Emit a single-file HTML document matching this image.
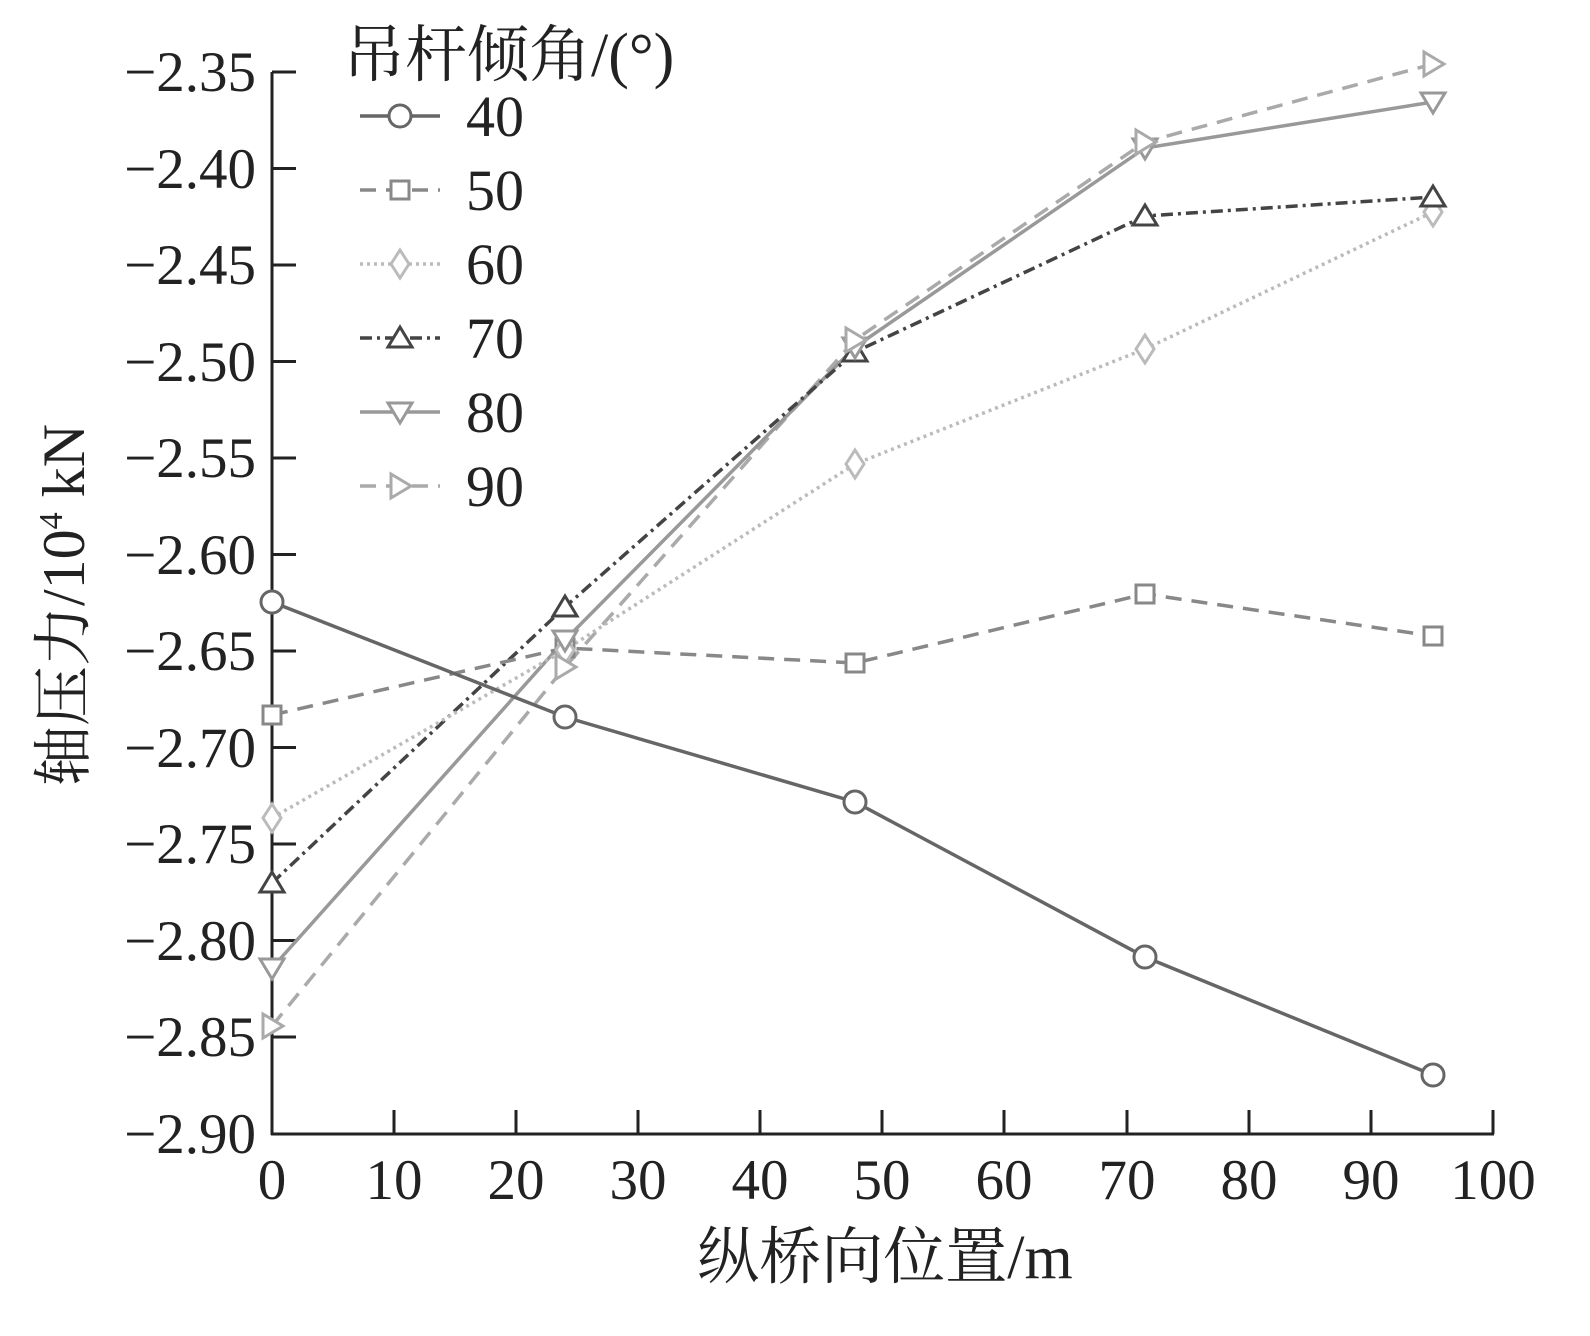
<!DOCTYPE html>
<html><head><meta charset="utf-8"><style>body{margin:0;background:#fff}svg{display:block}</style></head><body>
<svg width="1590" height="1336" xmlns="http://www.w3.org/2000/svg" font-family="Liberation Serif, Noto Serif CJK SC, serif">
<rect width="1590" height="1336" fill="#fff"/>
<g stroke="#222" stroke-width="3" fill="none">
<line x1="272" y1="72" x2="272" y2="1135"/>
<line x1="271" y1="1134" x2="1494" y2="1134"/>
</g>
<g stroke="#222" stroke-width="3">
<line x1="272" y1="72" x2="296" y2="72"/><line x1="272" y1="168.5" x2="296" y2="168.5"/><line x1="272" y1="265" x2="296" y2="265"/><line x1="272" y1="361.5" x2="296" y2="361.5"/><line x1="272" y1="458" x2="296" y2="458"/><line x1="272" y1="554.5" x2="296" y2="554.5"/><line x1="272" y1="651" x2="296" y2="651"/><line x1="272" y1="747.5" x2="296" y2="747.5"/><line x1="272" y1="844" x2="296" y2="844"/><line x1="272" y1="940.5" x2="296" y2="940.5"/><line x1="272" y1="1037" x2="296" y2="1037"/>
<line x1="394" y1="1110" x2="394" y2="1134"/><line x1="516" y1="1110" x2="516" y2="1134"/><line x1="638" y1="1110" x2="638" y2="1134"/><line x1="760" y1="1110" x2="760" y2="1134"/><line x1="882" y1="1110" x2="882" y2="1134"/><line x1="1004" y1="1110" x2="1004" y2="1134"/><line x1="1127" y1="1110" x2="1127" y2="1134"/><line x1="1249" y1="1110" x2="1249" y2="1134"/><line x1="1371" y1="1110" x2="1371" y2="1134"/><line x1="1493" y1="1110" x2="1493" y2="1134"/>
</g>
<g font-size="57" fill="#222" text-anchor="end">
<text x="256" y="91">−2.35</text><text x="256" y="188">−2.40</text><text x="256" y="284">−2.45</text><text x="256" y="381">−2.50</text><text x="256" y="477">−2.55</text><text x="256" y="574">−2.60</text><text x="256" y="670">−2.65</text><text x="256" y="767">−2.70</text><text x="256" y="863">−2.75</text><text x="256" y="960">−2.80</text><text x="256" y="1056">−2.85</text><text x="256" y="1153">−2.90</text>
</g>
<g font-size="57" fill="#222" text-anchor="middle">
<text x="272" y="1199">0</text><text x="394" y="1199">10</text><text x="516" y="1199">20</text><text x="638" y="1199">30</text><text x="760" y="1199">40</text><text x="882" y="1199">50</text><text x="1004" y="1199">60</text><text x="1127" y="1199">70</text><text x="1249" y="1199">80</text><text x="1371" y="1199">90</text><text x="1493" y="1199">100</text>
<text x="885" y="1278" font-size="62">纵桥向位置/m</text>
<text transform="translate(84,605) rotate(-90)" font-size="60">轴压力/10<tspan font-size="34" dy="-22">4</tspan><tspan dy="22"> kN</tspan></text>
</g>
<g fill="none" stroke-width="3.5">
<polyline stroke="#aaa" stroke-dasharray="16,10" points="272,1026 565,667 855,340 1145,142 1433,64"/>
<polyline stroke="#999" points="272,968 565,640 855,347 1145,148 1433,102"/>
<polyline stroke="#444" stroke-dasharray="12,5,3,5" points="272,883 565,607 855,352 1145,216 1433,197"/>
<polyline stroke="#bbb" stroke-dasharray="3,4" points="272,818 565,650 855,464 1145,349 1433,212"/>
<polyline stroke="#888" stroke-dasharray="16,10" points="272,715 565,648 855,663 1145,594 1433,636"/>
<polyline stroke="#666" points="272,602 565,717 855,802 1145,957 1433,1075"/>
</g>
<g fill="#fff" stroke-width="3">
<g stroke="#666"><circle cx="272" cy="602" r="11"/><circle cx="565" cy="717" r="11"/><circle cx="855" cy="802" r="11"/><circle cx="1145" cy="957" r="11"/><circle cx="1433" cy="1075" r="11"/></g>
<g stroke="#888"><rect x="263" y="706" width="18" height="18"/><rect x="556" y="639" width="18" height="18"/><rect x="846" y="654" width="18" height="18"/><rect x="1136" y="585" width="18" height="18"/><rect x="1424" y="627" width="18" height="18"/></g>
<g stroke="#bbb"><path d="M272 804l9 14-9 14-9-14z"/><path d="M565 636l9 14-9 14-9-14z"/><path d="M855 450l9 14-9 14-9-14z"/><path d="M1145 335l9 14-9 14-9-14z"/><path d="M1433 198l9 14-9 14-9-14z"/></g>
<g stroke="#444"><path d="M272 872l12 20h-24z"/><path d="M565 596l12 20h-24z"/><path d="M855 341l12 20h-24z"/><path d="M1145 205l12 20h-24z"/><path d="M1433 186l12 20h-24z"/></g>
<g stroke="#999"><path d="M272 979l12-20h-24z"/><path d="M565 651l12-20h-24z"/><path d="M855 358l12-20h-24z"/><path d="M1145 159l12-20h-24z"/><path d="M1433 113l12-20h-24z"/></g>
<g stroke="#aaa"><path d="M283 1026l-20-12v24z"/><path d="M576 667l-20-12v24z"/><path d="M866 340l-20-12v24z"/><path d="M1156 142l-20-12v24z"/><path d="M1444 64l-20-12v24z"/></g>
</g>
<text x="343" y="76" font-size="62" fill="#222">吊杆倾角/(°)</text>
<g fill="none" stroke-width="3.5">
<line x1="360" y1="116" x2="440" y2="116" stroke="#666"/>
<line x1="360" y1="190" x2="440" y2="190" stroke="#888" stroke-dasharray="16,10"/>
<line x1="360" y1="264" x2="440" y2="264" stroke="#bbb" stroke-dasharray="3,4"/>
<line x1="360" y1="338" x2="440" y2="338" stroke="#444" stroke-dasharray="12,5,3,5"/>
<line x1="360" y1="412" x2="440" y2="412" stroke="#999"/>
<line x1="360" y1="486" x2="440" y2="486" stroke="#aaa" stroke-dasharray="16,10"/>
</g>
<g fill="#fff" stroke-width="3">
<circle cx="400" cy="116" r="11" stroke="#666"/>
<rect x="391" y="181" width="18" height="18" stroke="#888"/>
<path d="M400 250l9 14-9 14-9-14z" stroke="#bbb"/>
<path d="M400 327l12 20h-24z" stroke="#444"/>
<path d="M400 423l12-20h-24z" stroke="#999"/>
<path d="M411 486l-20-12v24z" stroke="#aaa"/>
</g>
<g font-size="58" fill="#222">
<text x="466" y="136">40</text><text x="466" y="210">50</text><text x="466" y="284">60</text><text x="466" y="358">70</text><text x="466" y="432">80</text><text x="466" y="506">90</text>
</g>
</svg>
</body></html>
